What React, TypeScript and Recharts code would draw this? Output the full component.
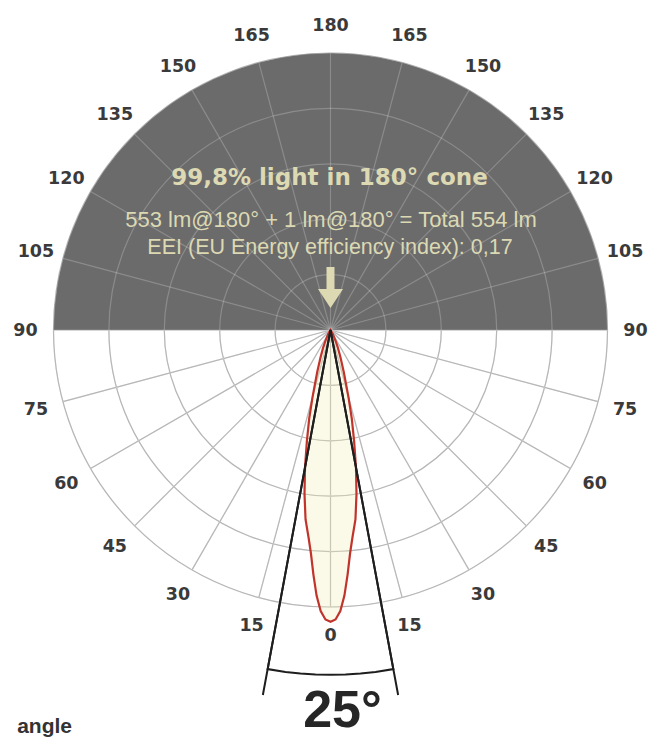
import { RadarChart, Radar, PolarGrid, PolarAngleAxis, PolarRadiusAxis } from "recharts";

// angle from nadir (0 = straight down), both sides labelled 0..180
const tickAngles = [0, 15, 30, 45, 60, 75, 90, 105, 120, 135, 150, 165, 180];
const ringTicks = [0, 0.2, 0.4, 0.6, 0.8, 1];

// upper half (90..180) shaded dark
const domeAngles = [90, 95, 100, 105, 110, 115, 120, 125, 130, 135, 140, 145, 150, 155, 160, 165, 170, 175, 180];

// relative intensity (1 = outer ring), symmetric beam
const beamAngles = [0, 1, 2, 3, 4, 5, 6, 7.5, 9, 10.5, 12, 13.5, 15, 17.5, 20, 22.5, 25, 30, 35];
const beamValues = [1.053, 1.045, 1.015, 0.96, 0.885, 0.81, 0.755, 0.69, 0.6, 0.505, 0.41, 0.33, 0.25, 0.16, 0.105, 0.07, 0.045, 0.015, 0];

// beam angle marker lines and arc
const edgeAngle = 10.5;
const edgeLength = 1.34;
const arcAngles = [-10.5, -7.5, -5, -2.5, 0, 2.5, 5, 7.5, 10.5];
const arcRadius = 1.245;

const W = 649;
const H = 738;
const CX = 330.5;
const CY = 330;
const R = 277;

const allTicks = [...tickAngles.slice(1, -1).map((a) => -a).reverse(), ...tickAngles];

const domeRows = [
  ...domeAngles.map((a) => ({ angle: a, dome: 1 })),
  ...domeAngles.slice().reverse().map((a) => ({ angle: -a, dome: 1 })),
];

const beamRows = [
  ...beamAngles.slice(1).reverse().map((a, i) => ({ angle: -a, beam: beamValues[beamAngles.length - 1 - i] })),
  ...beamAngles.map((a, i) => ({ angle: a, beam: beamValues[i] })),
];

// the rows between runs keep each line open (no closing chord)
const overlayRows = [
  ...beamRows,
  ...arcAngles.map((a) => ({ angle: a, arc: arcRadius })),
  { angle: -edgeAngle, edge: edgeLength },
  { angle: -edgeAngle, edge: 0 },
  { angle: 0, arc: 0 },
  { angle: edgeAngle, edge: 0 },
  { angle: edgeAngle, edge: edgeLength },
];

function AngleTick(props: any) {
  const { x, y, payload } = props;
  return (
    <text
      x={x}
      y={y}
      textAnchor="middle"
      dominantBaseline="central"
      fontFamily="DejaVu Sans, sans-serif"
      fontWeight="bold"
      fontSize={17.5}
      fill="#3a3a3a"
    >
      {Math.abs(payload.value)}
    </text>
  );
}

const chartProps = {
  width: W,
  height: H,
  cx: CX,
  cy: CY,
  outerRadius: R,
  margin: { top: 0, right: 0, bottom: 0, left: 0 },
};

export default function App() {
  const layer: React.CSSProperties = { position: "absolute", left: 0, top: 0 };
  return (
    <div style={{ position: "absolute", left: 0, top: 0, width: W, height: H, background: "#fff", overflow: "hidden" }}>
      <div style={layer}>
        <RadarChart {...chartProps} data={domeRows}>
          <PolarGrid gridType="circle" stroke="#a3a3a3" strokeWidth={1.2} />
          <PolarAngleAxis dataKey="angle" type="number" domain={[-180, 180]} ticks={allTicks} tick={false} tickLine={false} axisLine={false} />
          <PolarRadiusAxis domain={[0, 1]} ticks={ringTicks} tickCount={6} allowDataOverflow tick={false} axisLine={false} />
          <Radar dataKey="dome" stroke="none" fill="#6b6b6b" fillOpacity={1} isAnimationActive={false} />
        </RadarChart>
      </div>
      <div style={layer}>
        <RadarChart {...chartProps} data={overlayRows}>
          <PolarGrid gridType="circle" stroke="rgba(255,255,255,0.22)" strokeWidth={1.2} />
          <PolarAngleAxis
            dataKey="angle"
            type="number"
            domain={[-180, 180]}
            ticks={allTicks}
            tick={<AngleTick />}
            tickSize={28}
            tickLine={false}
            axisLine={false}
          />
          <PolarRadiusAxis domain={[0, 1]} ticks={ringTicks} tickCount={6} allowDataOverflow tick={false} axisLine={false} />
          <Radar dataKey="beam" stroke="#c0342c" strokeWidth={2.2} fill="#f2edb4" fillOpacity={0.3} connectNulls isAnimationActive={false} />
          <Radar dataKey="arc" stroke="#1e1e1e" strokeWidth={2} fill="none" isAnimationActive={false} />
          <Radar dataKey="edge" stroke="#1e1e1e" strokeWidth={2} fill="none" isAnimationActive={false} />
        </RadarChart>
      </div>
      <svg width={W} height={H} style={{ ...layer, pointerEvents: "none" }}>
        <text x={329.5} y={185} textAnchor="middle" fontFamily="DejaVu Sans, sans-serif" fontWeight="bold" fontSize={23} fill="#dcd9b3">
          99,8% light in 180° cone
        </text>
        <text x={331} y={227} textAnchor="middle" fontFamily="Liberation Sans, Arial, sans-serif" fontSize={22} fill="#dcd9b3">
          553 lm@180° + 1 lm@180° = Total 554 lm
        </text>
        <text x={330} y={254} textAnchor="middle" fontFamily="Liberation Sans, Arial, sans-serif" fontSize={21.5} fill="#dcd9b3">
          EEI (EU Energy efficiency index): 0,17
        </text>
        <rect x={326.5} y={267} width={8} height={25} fill="#dcd9b3" />
        <polygon points="318,289 343,289 330.5,308" fill="#dcd9b3" />
        <text x={342.5} y={727} textAnchor="middle" fontFamily="Liberation Sans, Arial, sans-serif" fontWeight="bold" fontSize={52} fill="#262626">
          25°
        </text>
        <text x={72} y={733} textAnchor="end" fontFamily="Liberation Sans, Arial, sans-serif" fontWeight="bold" fontSize={21} fill="#333">
          angle
        </text>
      </svg>
    </div>
  );
}
